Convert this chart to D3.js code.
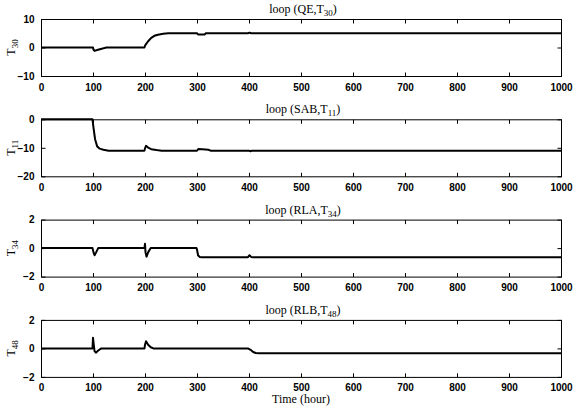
<!DOCTYPE html>
<html>
<head>
<meta charset="utf-8">
<script src="https://cdn.jsdelivr.net/npm/d3@7"></script>
<style>
  body { margin: 0; background: #fff; }
  .tick text { font-family: "Liberation Sans", Arial, sans-serif; font-weight: bold; font-size: 10px; }
  .ttl { font-family: "Liberation Serif", "Times New Roman", serif; font-size: 12px; }
</style>
</head>
<body>
<div id="chart"></div>
<script>
// time ticks
var timeTicks = [0, 100, 200, 300, 400, 500, 600, 700, 800, 900, 1000];

// loop (QE,T30)
var t30 = [[0,0],[100,0],[101,-0.8],[103,-1.2],[108,-0.9],[115,-0.5],[122,-0.2],[126,0],[199,0],[200,0.6],[202,1.2],[206,2.2],[212,3.4],[218,4.1],[225,4.5],[235,4.8],[245,5],[300,5],[302,4.6],[315,4.6],[317,5],[398,5],[401,5.2],[404,5],[1000,5]];
// loop (SAB,T11)
var t11 = [[0,0],[99,0],[101,-3],[104,-7],[108,-9.5],[113,-10.3],[120,-10.7],[130,-11],[199,-11],[200,-10.2],[202,-9.3],[206,-9.9],[212,-10.5],[222,-10.8],[232,-11],[300,-11],[303,-10.4],[310,-10.5],[322,-10.7],[326,-11],[400,-11],[403,-11.2],[406,-11],[1000,-11]];
// loop (RLA,T34)
var t34 = [[0,0],[99,0],[101,-0.3],[103,-0.5],[106,-0.3],[110,0],[199,0],[200,0.3],[201,-0.3],[203,-0.6],[206,-0.3],[211,0],[299,0],[300,-0.1],[302,-0.5],[305,-0.62],[310,-0.64],[398,-0.64],[401,-0.5],[404,-0.62],[408,-0.65],[1000,-0.65]];
// loop (RLB,T48)
var t48 = [[0,0],[99,0],[100,0.75],[101,0.4],[103,-0.2],[106,-0.3],[110,-0.15],[116,0],[199,0],[200,0.25],[202,0.5],[206,0.25],[211,0.08],[216,0],[398,0],[403,-0.1],[408,-0.25],[413,-0.32],[420,-0.34],[1000,-0.34]];

var panels = [
  { name: "QE", sub: "30", data: t30, domain: [-10, 10], ticks: [-10, 0, 10] },
  { name: "SAB", sub: "11", data: t11, domain: [-20, 0], ticks: [-20, -10, 0] },
  { name: "RLA", sub: "34", data: t34, domain: [-2, 2], ticks: [-2, 0, 2] },
  { name: "RLB", sub: "48", data: t48, domain: [-2, 2], ticks: [-2, 0, 2] }
];

var width = 574, height = 409;
var left = 41, right = 561, panelTop = 19, panelH = 57, step = 100.3;
var fmt = d3.format("d");

var svg = d3.select("#chart").append("svg")
    .attr("width", width)
    .attr("height", height);

var x = d3.scaleLinear().domain([0, 1000]).range([left, right]);

panels.forEach(function (p, i) {
    var top = panelTop + i * step;
    var y = d3.scaleLinear().domain(p.domain).range([top + panelH, top]);
    var g = svg.append("g");

    // box
    g.append("rect")
        .attr("x", left + 0.5).attr("y", top + 0.5)
        .attr("width", right - left).attr("height", panelH)
        .attr("fill", "none").attr("stroke", "#000").attr("stroke-width", 1);

    // bottom axis with labels (ticks inward)
    var xb = g.append("g")
        .attr("transform", "translate(0," + (top + panelH + 0.5) + ")")
        .call(d3.axisBottom(x).tickValues(timeTicks).tickFormat(fmt).tickSizeInner(-4).tickSizeOuter(0).tickPadding(7));
    xb.select(".domain").remove();

    var xt = g.append("g")
        .attr("transform", "translate(0," + (top + 0.5) + ")")
        .call(d3.axisTop(x).tickValues(timeTicks).tickSizeInner(-4).tickSizeOuter(0).tickFormat(""));
    xt.select(".domain").remove();

    var yl = g.append("g")
        .attr("transform", "translate(" + (left + 0.5) + ",0)")
        .call(d3.axisLeft(y).tickValues(p.ticks).tickFormat(fmt).tickSizeInner(-4).tickSizeOuter(0).tickPadding(7));
    yl.select(".domain").remove();

    var yr = g.append("g")
        .attr("transform", "translate(" + (right + 0.5) + ",0)")
        .call(d3.axisRight(y).tickValues(p.ticks).tickSizeInner(-4).tickSizeOuter(0).tickFormat(""));
    yr.select(".domain").remove();

    // series
    var line = d3.line()
        .x(function (d) { return x(d[0]); })
        .y(function (d) { return y(d[1]); });

    g.append("path")
        .datum(p.data)
        .attr("d", line)
        .attr("fill", "none")
        .attr("stroke", "#000")
        .attr("stroke-width", 2)
        .attr("stroke-linejoin", "round");

    // title
    var t = g.append("text")
        .attr("class", "ttl")
        .attr("x", (left + right) / 2 + 2)
        .attr("y", top - 6)
        .attr("text-anchor", "middle");
    t.append("tspan").text("loop (" + p.name + ",T");
    t.append("tspan").attr("dy", 3).attr("font-size", "9px").text(p.sub);
    t.append("tspan").attr("dy", -3).text(")");

    // y label
    var yt = g.append("text")
        .attr("class", "ttl")
        .attr("transform", "translate(15," + (top + panelH / 2) + ") rotate(-90)")
        .attr("text-anchor", "middle");
    yt.append("tspan").text("T");
    yt.append("tspan").attr("dy", 3).attr("font-size", "9px").text(p.sub);
});

svg.append("text")
    .attr("class", "ttl")
    .attr("x", (left + right) / 2)
    .attr("y", 403)
    .attr("text-anchor", "middle")
    .text("Time (hour)");
</script>
</body>
</html>
